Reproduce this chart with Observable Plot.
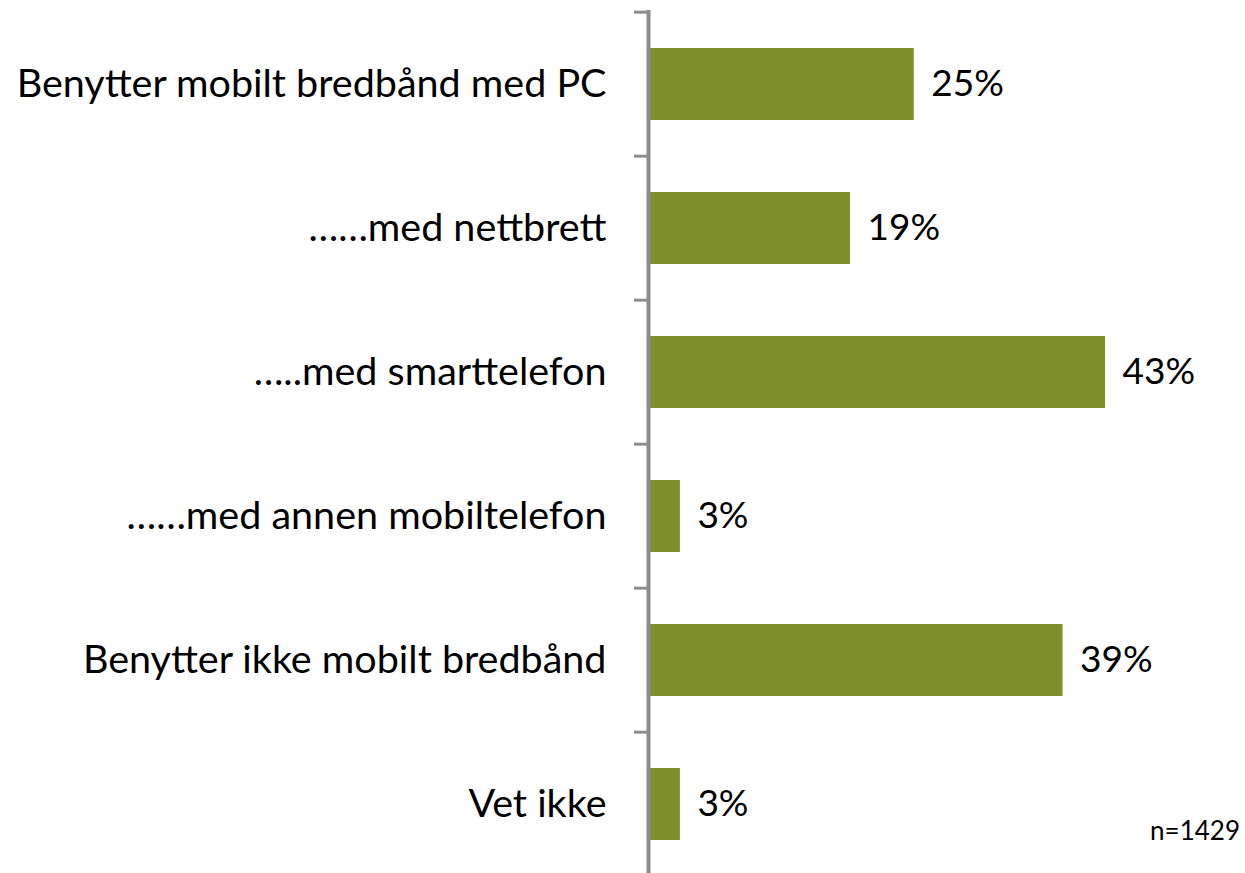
<!DOCTYPE html>
<html>
<head>
<meta charset="utf-8">
<script src="https://cdn.jsdelivr.net/npm/d3@7"></script>
<script src="https://cdn.jsdelivr.net/npm/@observablehq/plot@0.6"></script>
<style>
  html, body { margin: 0; padding: 0; background: #fff; overflow: hidden; }
  #chart svg { display: block; }
</style>
</head>
<body>
<div id="chart"></div>
<script>
const categories = [
  "Benytter mobilt bredbånd med PC",
  "……med nettbrett",
  "…..med smarttelefon",
  "……med annen mobiltelefon",
  "Benytter ikke mobilt bredbånd",
  "Vet ikke"
];
const values = [25, 19, 43, 3, 39, 3];
const note = "n=1429";

const data = categories.map((c, i) => ({category: c, value: values[i]}));
const FONT = "Lato, 'Open Sans', sans-serif";
const bandStep = 868 / 6;

const chart = Plot.plot({
  width: 1245,
  height: 873,
  marginTop: 10,
  marginBottom: 0,
  marginLeft: 648,
  marginRight: 65.5,
  style: {fontFamily: FONT, background: "#fff"},
  x: {domain: [0, 50], axis: null},
  y: {domain: categories, range: [10, 878], paddingInner: 0.5, paddingOuter: 0.25, label: null},
  marks: [
    Plot.barX(data, {x: "value", y: "category", fill: "#7e8f2c"}),
    Plot.axisY({tickSize: 14, text: null, dy: -bandStep / 2, stroke: "#8c8c8c", strokeWidth: 3, label: null}),
    Plot.axisY({tickSize: 0, tickPadding: 42, fontSize: 39.5, fill: "#000", label: null}),
    Plot.ruleX([0], {stroke: "#8c8c8c", strokeWidth: 4}),
    Plot.text(data, {x: "value", y: "category", text: d => d.value + "%", textAnchor: "start", dx: 17, fontSize: 37, fill: "#000"}),
    Plot.text([note], {frameAnchor: "bottom-right", dx: 60, dy: -42, fontSize: 26, fill: "#000", lineAnchor: "middle"})
  ]
});
document.getElementById("chart").appendChild(chart);
</script>
</body>
</html>
